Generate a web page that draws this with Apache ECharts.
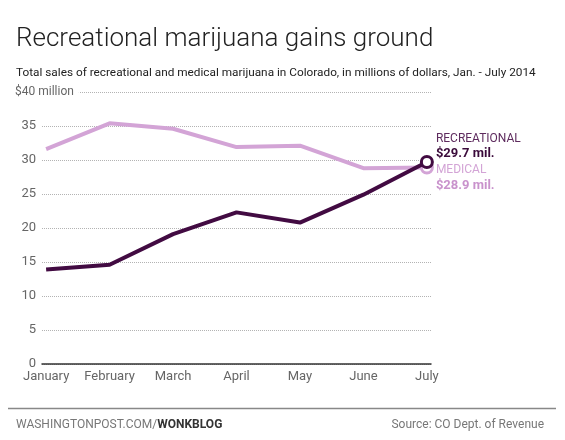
<!DOCTYPE html>
<html>
<head>
<meta charset="utf-8">
<title>Recreational marijuana gains ground</title>
<script src="https://cdn.jsdelivr.net/npm/echarts@6/dist/echarts.min.js"></script>
<style>
  body { margin: 0; padding: 0; background: #fff; }
  #main { width: 565px; height: 440px; }
</style>
</head>
<body>
<div id="main"></div>
<script>
// data (millions of dollars)
var months = ['January', 'February', 'March', 'April', 'May', 'June', 'July'];
var recreational = [13.9, 14.6, 19.1, 22.3, 20.8, 24.9, 29.7];
var medical = [31.6, 35.4, 34.6, 31.9, 32.1, 28.8, 28.9];
var yTicks = [0, 5, 10, 15, 20, 25, 30, 35, 40];

var FONT = 'Roboto, "Noto Sans", sans-serif';
var REC = '#420b42';
var MED = '#d3a4d6';

function pairs(arr) {
  return arr.map(function (v, i) { return [i, v]; });
}

var chart = echarts.init(document.getElementById('main'));

// only the last point gets a ring
function lastOnly(value, params) {
  return params.dataIndex === months.length - 1 ? 'circle' : 'none';
}

chart.setOption({
  animation: false,
  textStyle: { fontFamily: FONT },
  title: [
    {
      text: 'Recreational marijuana gains ground',
      left: 11, top: 21,
      textStyle: { fontFamily: FONT, fontSize: 26, fontWeight: 300, color: '#222' }
    },
    {
      text: 'Total sales of recreational and medical marijuana in Colorado, in millions of dollars, Jan. - July 2014',
      left: 11, top: 62,
      textStyle: { fontFamily: FONT, fontSize: 11.8, fontWeight: 'normal', color: '#222' }
    },
    {
      text: '{a|WASHINGTONPOST.COM/}{b|WONKBLOG}',
      left: 11, top: 414,
      textStyle: {
        fontWeight: 'normal',
        rich: {
          a: { fontFamily: FONT, fontSize: 12, color: '#777', fontWeight: 'normal' },
          b: { fontFamily: FONT, fontSize: 12, color: '#333', fontWeight: 'bold' }
        }
      }
    },
    {
      text: 'Source: CO Dept. of Revenue',
      right: 16, top: 414,
      textStyle: { fontFamily: FONT, fontSize: 12, fontWeight: 'normal', color: '#777' }
    }
  ],
  graphic: [
    {
      type: 'line',
      shape: { x1: 8, y1: 408.5, x2: 556, y2: 408.5 },
      style: { stroke: '#888', lineWidth: 1.5 }
    }
  ],
  grid: { left: 42, right: 134, top: 92, bottom: 76 },
  xAxis: {
    type: 'value',
    min: -0.065,
    max: months.length - 1 + 0.065,
    axisLine: { show: true, onZero: false, lineStyle: { color: '#333', width: 1.5 } },
    axisTick: { show: false },
    splitLine: { show: false },
    axisLabel: {
      customValues: months.map(function (m, i) { return i; }),
      formatter: function (v) { return months[Math.round(v)]; },
      color: '#666',
      fontSize: 13,
      margin: 6,
      showMinLabel: true,
      showMaxLabel: true
    }
  },
  yAxis: [
    {
      type: 'value',
      min: 0, max: 40, interval: 5,
      axisLine: { show: false },
      axisTick: { show: false },
      splitLine: { show: true, lineStyle: { color: '#b3b3b3', type: 'dotted', width: 1 } },
      axisLabel: {
        color: '#666', fontSize: 13, margin: 6,
        formatter: function (v) { return v === 40 ? '' : String(v); }
      }
    },
    {
      // top tick label sits over the start of its gridline
      type: 'value',
      position: 'left',
      min: 0, max: 40, interval: 5,
      axisLine: { show: false },
      axisTick: { show: false },
      splitLine: { show: false },
      axisLabel: {
        align: 'left',
        margin: 27,
        formatter: function (v) { return v === yTicks[yTicks.length - 1] ? '{m|$' + v + ' million}' : ''; },
        rich: {
          m: { color: '#666', fontSize: 12, fontFamily: FONT, backgroundColor: '#fff', padding: [2, 5, 2, 0] }
        }
      }
    }
  ],
  series: [
    {
      name: 'MEDICAL',
      type: 'line',
      data: pairs(medical),
      symbol: lastOnly,
      symbolSize: 11,
      lineStyle: { color: MED, width: 4 },
      itemStyle: { color: '#fff', borderColor: MED, borderWidth: 3 },
      z: 2,
      endLabel: {
        show: true,
        distance: 9,
        offset: [0, 11],
        formatter: function (p) { return '{a|MEDICAL}\n{b|$' + p.value[1].toFixed(1) + ' mil.}'; },
        rich: {
          a: { fontFamily: FONT, fontSize: 12, color: MED, lineHeight: 14 },
          b: { fontFamily: FONT, fontSize: 13, fontWeight: 'bold', color: '#c992cc', lineHeight: 16 }
        }
      }
    },
    {
      name: 'RECREATIONAL',
      type: 'line',
      data: pairs(recreational),
      symbol: lastOnly,
      symbolSize: 11,
      lineStyle: { color: REC, width: 4 },
      itemStyle: { color: '#fff', borderColor: REC, borderWidth: 3 },
      z: 3,
      endLabel: {
        show: true,
        distance: 9,
        offset: [0, -15],
        formatter: function (p) { return '{a|RECREATIONAL}\n{b|$' + p.value[1].toFixed(1) + ' mil.}'; },
        rich: {
          a: { fontFamily: FONT, fontSize: 12, color: '#5e2b5e', lineHeight: 14 },
          b: { fontFamily: FONT, fontSize: 13, fontWeight: 'bold', color: '#3a0a3a', lineHeight: 16 }
        }
      }
    }
  ]
});
</script>
</body>
</html>
